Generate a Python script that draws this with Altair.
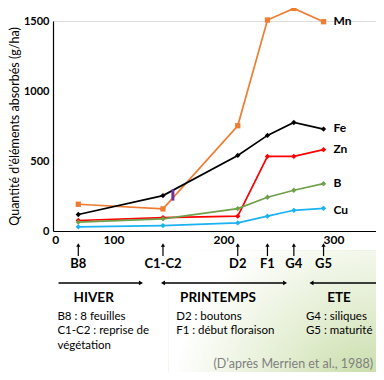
import altair as alt
import pandas as pd

# ---- data ----
stages = ["B8", "C1-C2", "D2", "F1", "G4", "G5"]
days = [68, 145, 213, 240, 264, 291]
elements = ["Mn", "Fe", "Zn", "B", "Cu"]
mn = [191, 158, 752, 1507, 1590, 1495]
fe = [118, 253, 540, 683, 775, 728]
zn = [75, 96, 106, 533, 533, 581]
bo = [63, 87, 160, 241, 291, 338]
cu = [30, 39, 58, 106, 148, 162]
colors = ["#ED7D31", "#000000", "#FF0000", "#70A04A", "#1AB2F0"]
shapes = ["square", "diamond", "diamond", "diamond", "diamond"]

label_days = [300, 300, 300, 300, 300]
label_vals = [1500, 737, 588, 343, 153]

x_tick_values = [47, 100, 200, 300]
y_tick_values = [0, 500, 1000, 1500]

seasons = ["HIVER", "PRINTEMPS", "ETE"]
season_centers = [82, 195, 305]
season_from = [50, 145, 280]
season_to = [125, 256, 338.7]

notes_left = ["B8 : 8 feuilles", "C1-C2 : reprise de", "végétation"]
notes_mid = ["D2 : boutons", "F1 : début floraison"]
notes_right = ["G4 : siliques", "G5 : maturité"]
note_rows = [-612, -712, -822]
citation = "(D\u2019après Merrien et al., 1988)"

series = {"Mn": mn, "Fe": fe, "Zn": zn, "B": bo, "Cu": cu}
rows = []
for el, vals in series.items():
    for s, d, v in zip(stages, days, vals):
        rows.append({"element": el, "stage": s, "day": d, "value": v})
df = pd.DataFrame(rows)

xs = alt.Scale(domain=[45, 338.7], nice=False, zero=False)
ys = alt.Scale(domain=[0, 1500], nice=False)
FONT = "Lato"

color = alt.Color("element:N", scale=alt.Scale(domain=elements, range=colors), legend=None)

# background gradient (bottom-right corner)
bg = alt.Chart(pd.DataFrame({"x": [150], "x2": [338.7], "y": [-140], "y2": [-1007]})).mark_rect(
    fill=alt.Gradient(gradient="radial", x1=1, y1=1, r1=0, x2=1, y2=1, r2=1,
                      stops=[alt.GradientStop(offset=0, color="#bad596"),
                             alt.GradientStop(offset=0.5, color="#e2edd0"),
                             alt.GradientStop(offset=1, color="#ffffff")]),
    clip=False,
).encode(x=alt.X("x:Q", scale=xs), x2="x2:Q", y=alt.Y("y:Q", scale=ys), y2="y2:Q")

lines = alt.Chart(df).mark_line(strokeWidth=1.7).encode(
    x=alt.X("day:Q", scale=xs,
            axis=alt.Axis(values=x_tick_values, labelExpr="datum.value < 50 ? '0' : datum.label",
                          ticks=False, grid=False, title=None, labelFlush=False,
                          labelFont=FONT, labelFontWeight="bold", labelFontSize=12,
                          labelPadding=3, domainColor="#000000", domainWidth=1.2, zindex=1)),
    y=alt.Y("value:Q", scale=ys,
            axis=alt.Axis(values=y_tick_values, format="d", ticks=False, grid=False,
                          title="Quantité d\u2019éléments absorbés (g/ha)",
                          titleFont=FONT, titleFontWeight="normal", titleFontSize=12.5,
                          titleColor="#000000", titlePadding=2,
                          labelFont=FONT, labelFontWeight="bold", labelFontSize=11,
                          labelPadding=4, domainColor="#000000", domainWidth=1.2)),
    color=color,
    detail="element:N",
)

pts = alt.Chart(df).mark_point(filled=True, size=28, opacity=1).encode(
    x=alt.X("day:Q", scale=xs), y=alt.Y("value:Q", scale=ys), color=color,
    shape=alt.Shape("element:N", scale=alt.Scale(domain=elements, range=shapes), legend=None),
)

lab = alt.Chart(pd.DataFrame({"element": elements, "day": label_days, "value": label_vals})).mark_text(
    align="left", baseline="middle", font=FONT, fontWeight="bold", fontSize=12, color="#000000"
).encode(x=alt.X("day:Q", scale=xs), y=alt.Y("value:Q", scale=ys), text="element:N")

purple = alt.Chart(pd.DataFrame({"day": [154], "y": [217], "y2": [296]})).mark_rule(
    color="#7030A0", strokeWidth=3
).encode(x=alt.X("day:Q", scale=xs), y=alt.Y("y:Q", scale=ys), y2="y2:Q")

sdf = pd.DataFrame({"stage": stages, "day": days, "top": [-100] * 6, "bot": [-179] * 6, "lab": [-236] * 6})
stem = alt.Chart(sdf).mark_rule(color="#000000", strokeWidth=1.2).encode(
    x=alt.X("day:Q", scale=xs), y=alt.Y("top:Q", scale=ys), y2="bot:Q")
head = alt.Chart(sdf).mark_point(shape="triangle-up", filled=True, size=18, color="#000000", opacity=1).encode(
    x=alt.X("day:Q", scale=xs), y=alt.Y("top:Q", scale=ys))
stage_txt = alt.Chart(sdf).mark_text(font=FONT, fontWeight="bold", fontSize=13, color="#000000",
                                     baseline="middle").encode(
    x=alt.X("day:Q", scale=xs), y=alt.Y("lab:Q", scale=ys), text="stage:N")

sea = pd.DataFrame({"season": seasons, "c": season_centers, "a": season_from, "b": season_to,
                    "row": [-371] * 3, "lrow": [-479] * 3})
sea_rule = alt.Chart(sea).mark_rule(color="#000000", strokeWidth=1.6).encode(
    x=alt.X("a:Q", scale=xs), x2="b:Q", y=alt.Y("row:Q", scale=ys))
right_heads = alt.Chart(pd.DataFrame({"x": [season_to[0], season_to[1]], "row": [-371, -371]})).mark_point(
    shape="triangle-right", filled=True, size=22, color="#000000", opacity=1).encode(
    x=alt.X("x:Q", scale=xs), y=alt.Y("row:Q", scale=ys))
left_heads = alt.Chart(pd.DataFrame({"x": [season_from[1], season_from[2]], "row": [-371, -371]})).mark_point(
    shape="triangle-left", filled=True, size=22, color="#000000", opacity=1).encode(
    x=alt.X("x:Q", scale=xs), y=alt.Y("row:Q", scale=ys))
sea_txt = alt.Chart(sea).mark_text(font=FONT, fontWeight="bold", fontSize=13.5, color="#000000",
                                   baseline="middle").encode(
    x=alt.X("c:Q", scale=xs), y=alt.Y("lrow:Q", scale=ys), text="season:N")

note_rows_df = []
for col_x, texts in [(49, notes_left), (157, notes_mid), (275, notes_right)]:
    for t, r in zip(texts, note_rows):
        note_rows_df.append({"x": col_x, "y": r, "t": t})
notes = alt.Chart(pd.DataFrame(note_rows_df)).mark_text(
    align="left", baseline="middle", font=FONT, fontSize=11.5, color="#000000").encode(
    x=alt.X("x:Q", scale=xs), y=alt.Y("y:Q", scale=ys), text="t:N")

cite = alt.Chart(pd.DataFrame({"x": [336], "y": [-950], "t": [citation]})).mark_text(
    align="right", baseline="middle", font=FONT, fontSize=12.5, color="#808080").encode(
    x=alt.X("x:Q", scale=xs), y=alt.Y("y:Q", scale=ys), text="t:N")

chart = alt.layer(bg, lines, pts, lab, purple, stem, head, stage_txt, sea_rule, right_heads,
                  left_heads, sea_txt, notes, cite).properties(
    width=323, height=210,
    autosize=alt.AutoSizeParams(type="none"),
    padding={"left": 45, "top": 13, "right": 0, "bottom": 141},
).configure_view(stroke=None, clip=False).configure(background="#ffffff")

chart.save("out.html", embed_options={"renderer": "svg", "actions": False})
